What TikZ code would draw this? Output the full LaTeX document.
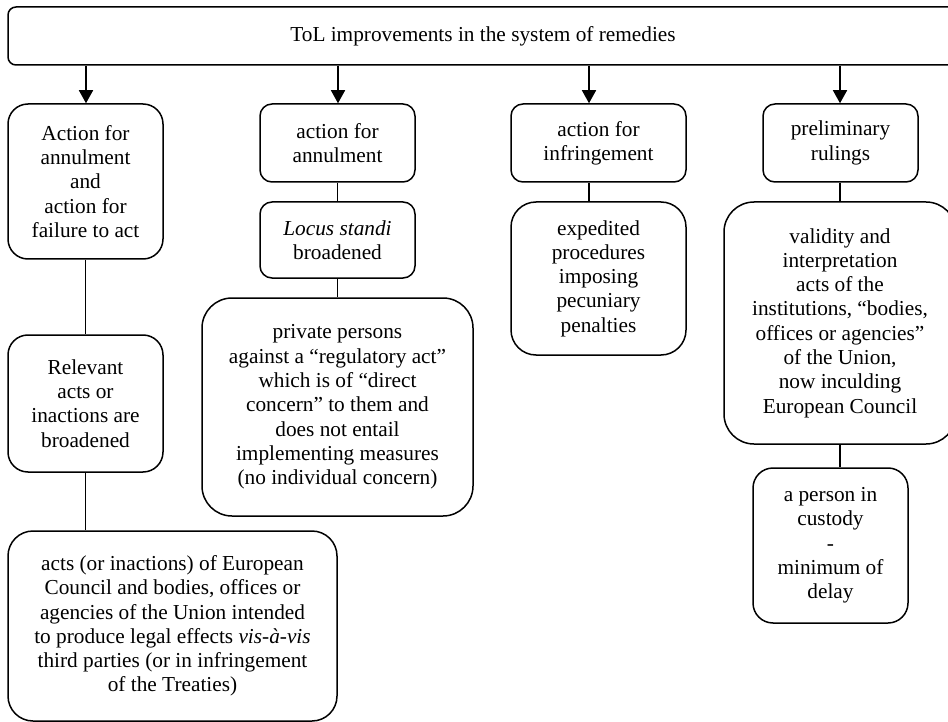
\documentclass[tikz,border=0pt]{standalone}
\usepackage{fontspec}
\setmainfont{Liberation Serif}
\usetikzlibrary{arrows.meta}
\begin{document}
\begin{tikzpicture}[x=1pt,y=-1pt,
  every node/.style={font=\fontsize{21.3}{24.3}\selectfont, align=center, inner sep=0pt},
  rbox/.style={draw, line width=1.5pt, rectangle, rounded corners=#1},
  rbox/.default=20pt,
  link/.style={line width=1.5pt},
  arr/.style={line width=1.5pt, -{Triangle[width=14pt,length=13pt]}}]
\useasboundingbox (0,0) rectangle (948,722);
% top
\node[rbox=8pt, minimum width=950pt, minimum height=58pt] (top) at (483,36) {\raisebox{3pt}{ToL improvements in the system of remedies}};
% column 1
\node[rbox=20pt, minimum width=155pt, minimum height=155pt] (A1) at (85.5,181.5) {Action for\\annulment\\and\\action for\\failure to act};
\node[rbox=20pt, minimum width=155pt, minimum height=137pt] (A2) at (85.5,403.5) {Relevant\\acts or\\inactions are\\broadened};
\node[rbox=25pt, minimum width=329pt, minimum height=190pt] (A3) at (172.5,626) {acts (or inactions) of European\\Council and bodies, offices or\\agencies of the Union intended\\to produce legal effects \textit{vis-à-vis}\\third parties (or in infringement\\of the Treaties)};
% column 2
\node[rbox=12pt, minimum width=155pt, minimum height=78pt] (B1) at (337.5,143) {action for\\annulment};
\node[rbox=12pt, minimum width=155pt, minimum height=76pt] (B2) at (337.5,240) {\textit{Locus standi}\\broadened};
\node[rbox=30pt, minimum width=271pt, minimum height=218pt] (B3) at (337.5,407) {private persons\\against a “regulatory act”\\which is of “direct\\concern” to them and\\does not entail\\implementing measures\\(no individual concern)};
% column 3
\node[rbox=12pt, minimum width=175pt, minimum height=78pt] (C1) at (598.5,143) {action for\\infringement};
\node[rbox=25pt, minimum width=175pt, minimum height=153pt] (C2) at (598.5,278.5) {expedited\\procedures\\imposing\\pecuniary\\penalties};
% column 4
\node[rbox=12pt, minimum width=155pt, minimum height=78pt] (D1) at (840.5,143) {preliminary\\rulings};
\node[rbox=30pt, minimum width=232pt, minimum height=242pt] (D2) at (840,323) {validity and\\interpretation\\acts of the\\institutions, “bodies,\\offices or agencies”\\of the Union,\\now inculding\\European Council};
\node[rbox=20pt, minimum width=155pt, minimum height=155pt] (D3) at (830.5,545.5) {a person in\\custody\\-\\minimum of\\delay};
% arrow x positions
\coordinate (xa) at (86,0);
\coordinate (xb) at (338,0);
\coordinate (xc) at (589,0);
\coordinate (xd) at (840,0);
\draw[arr] (top.south -| xa) -- (xa |- A1.north);
\draw[arr] (top.south -| xb) -- (xb |- B1.north);
\draw[arr] (top.south -| xc) -- (xc |- C1.north);
\draw[arr] (top.south -| xd) -- (xd |- D1.north);
% links
\draw[link] (A1.south) -- (A2.north);
\draw[link] (A2.south) -- (A2.south |- A3.north);
\draw[link] (B1.south) -- (B2.north);
\draw[link] (B2.south) -- (B3.north);
\draw[link] (C1.south -| xc) -- (xc |- C2.north);
\draw[link] (D1.south -| xd) -- (xd |- D2.north);
\draw[link] (D2.south -| xd) -- (xd |- D3.north);
\end{tikzpicture}
\end{document}
